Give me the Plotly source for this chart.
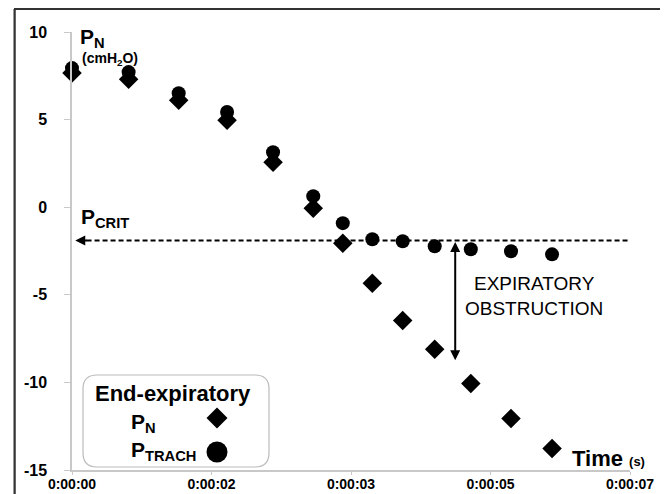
import plotly.graph_objects as go

# ---- data ----
time_s = [0.0, 0.69, 1.30, 1.89, 2.45, 2.94, 3.30, 3.66, 4.03, 4.42, 4.86, 5.35, 5.85]
p_n = [7.66, 7.31, 6.11, 4.97, 2.57, -0.06, -2.06, -4.34, -6.46, -8.11, -10.06, -12.06, -13.77]
p_trach = [7.94, 7.71, 6.51, 5.43, 3.14, 0.63, -0.91, -1.83, -1.94, -2.23, -2.40, -2.51, -2.69]
p_crit = -1.9
obstruction_time = 4.67
obstruction_bottom = -8.74
x_tickvals = [0, 1.7, 3.4, 5.1, 6.8]
x_ticktext = ["0:00:00", "0:00:02", "0:00:03", "0:00:05", "0:00:07"]
y_tickvals = [10, 5, 0, -5, -10, -15]
y_ticktext = ["10", "5", "0", "-5", "-10", "-15"]

FONT = "Liberation Sans, Arial, sans-serif"
OFF = 8  # page body margin
W_, H_ = 668 - OFF, 494 - OFF
# plot area in screen pixels
L, R, T, B = 72, 630, 32, 470


def px(x):
    return (x - L) / (R - L)


def py(y):
    return (B - y) / (B - T)


fig = go.Figure()
fig.add_trace(go.Scatter(x=time_s, y=p_n, mode="markers", cliponaxis=False,
                         marker=dict(symbol="diamond", size=15, color="black"),
                         showlegend=False))
fig.add_trace(go.Scatter(x=time_s, y=p_trach, mode="markers", cliponaxis=False,
                         marker=dict(symbol="circle", size=14, color="black"),
                         showlegend=False))

shapes = []
# outer frame (left and top edges visible)
shapes.append(dict(type="line", xref="paper", yref="paper", x0=px(14.5), x1=px(14.5),
                   y0=py(9), y1=py(494), layer="above", line=dict(color="#333", width=2)))
shapes.append(dict(type="line", xref="paper", yref="paper", x0=px(14.5), x1=px(668),
                   y0=py(9), y1=py(9), layer="above", line=dict(color="#333", width=2)))
# P_crit dashed line
shapes.append(dict(type="line", xref="x", yref="y", x0=0.08, x1=6.82, y0=p_crit, y1=p_crit,
                   line=dict(color="black", width=2, dash="5px,3px")))

# legend box (rounded) in paper coords
bx0, bx1, by0, by1 = px(83), px(269), py(467), py(375)
rx, ry = 14 / (R - L), 14 / (B - T)
path = (f"M {bx0+rx},{by0} L {bx1-rx},{by0} Q {bx1},{by0} {bx1},{by0+ry} "
        f"L {bx1},{by1-ry} Q {bx1},{by1} {bx1-rx},{by1} L {bx0+rx},{by1} "
        f"Q {bx0},{by1} {bx0},{by1-ry} L {bx0},{by0+ry} Q {bx0},{by0} {bx0+rx},{by0} Z")
shapes.append(dict(type="path", xref="paper", yref="paper", path=path,
                   line=dict(color="#bbbbbb", width=1.2), fillcolor="white", layer="below"))
# legend diamond
cx, cy, hw = 217, 418, 10.5
dpath = (f"M {px(cx)},{py(cy-hw)} L {px(cx+hw)},{py(cy)} L {px(cx)},{py(cy+hw)} "
         f"L {px(cx-hw)},{py(cy)} Z")
shapes.append(dict(type="path", xref="paper", yref="paper", path=dpath,
                   fillcolor="black", line=dict(color="black", width=0)))
# legend circle
cx, cy, r = 217, 452, 10.5
shapes.append(dict(type="circle", xref="paper", yref="paper", x0=px(cx-r), x1=px(cx+r),
                   y0=py(cy+r), y1=py(cy-r), fillcolor="black", line=dict(color="black", width=0)))

ann = []

# frame drawn also as an empty bordered box
ann.append(dict(x=px(13.5), y=py(8), xref="paper", yref="paper", text=" ", showarrow=False,
                xanchor="left", yanchor="top", width=700, height=520,
                bordercolor="#333", borderwidth=1.5, borderpad=0))


def txt(x, y, text, size, xanchor="left", yanchor="middle", align="left", weight="bold"):
    ann.append(dict(x=px(x), y=py(y), xref="paper", yref="paper", text=text, showarrow=False,
                    xanchor=xanchor, yanchor=yanchor, align=align,
                    font=dict(family=FONT, size=size, color="black", weight=weight)))


txt(78, 38, "P<sub>N</sub>", 21)
txt(80, 59, "(cmH<sub>2</sub>O)", 14)
txt(79, 218, "P<sub>CRIT</sub>", 21)
txt(534, 296, "EXPIRATORY<br>OBSTRUCTION", 19, xanchor="center", align="center",
    weight="normal")
txt(173, 393, "End-expiratory", 22, xanchor="center")
txt(129, 423, "P<sub>N</sub>", 21)
txt(129, 451, "P<sub>TRACH</sub>", 21)
txt(570, 458, "Time <span style='font-size:13px'>(s)</span>", 22)

# arrowhead at the start of the P_crit line
ann.append(dict(x=0.04, y=p_crit, ax=0.2, ay=p_crit, xref="x", yref="y", axref="x", ayref="y",
                text="", showarrow=True, arrowhead=2, arrowsize=1, arrowwidth=2,
                arrowcolor="black"))
# double arrow for expiratory obstruction
ann.append(dict(x=obstruction_time, y=obstruction_bottom, ax=obstruction_time, ay=p_crit,
                xref="x", yref="y", axref="x", ayref="y", text="", showarrow=True,
                arrowhead=2, startarrowhead=2, arrowside="end+start", arrowsize=1,
                arrowwidth=2, arrowcolor="black"))

fig.update_layout(
    width=W_, height=H_,
    margin=dict(l=L - OFF, r=668 - R, t=T - OFF, b=494 - B),
    paper_bgcolor="white", plot_bgcolor="white",
    font=dict(family=FONT, color="black"),
    shapes=shapes, annotations=ann,
    xaxis=dict(range=[0, 6.8], tickvals=x_tickvals, ticktext=x_ticktext, automargin=False,
               showgrid=False, zeroline=False, showline=True, linecolor="#c8c8c8",
               linewidth=1.5, ticks="outside", ticklen=3, tickcolor="#c8c8c8",
               ticklabelstandoff=-3,
               tickfont=dict(family=FONT, size=14, color="black", weight="bold")),
    yaxis=dict(range=[-15, 10], tickvals=y_tickvals, ticktext=y_ticktext, automargin=False,
               showgrid=False, zeroline=False,
               showline=True, linecolor="#c8c8c8", linewidth=1.5, ticks="outside",
               ticklen=6, tickcolor="#c8c8c8", ticklabelstandoff=14,
               tickfont=dict(family=FONT, size=16, color="black", weight="bold")),
)

fig.write_html("out.html")
